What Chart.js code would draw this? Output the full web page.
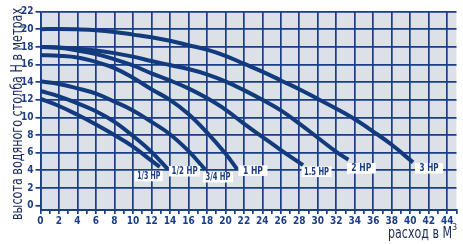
<!DOCTYPE html>
<html>
<head>
<meta charset="utf-8">
<script src="https://cdn.jsdelivr.net/npm/chart.js@4/dist/chart.umd.min.js"></script>
<style>
  html, body { margin: 0; padding: 0; background: #fff; }
  #wrap { width: 463px; height: 244px; position: relative; }
</style>
</head>
<body>
<div id="wrap"><canvas id="pumpChart" width="463" height="244"></canvas></div>
<script>
// pump curves: flow (m3/h) vs head (m)
var hpLabels = ['1/3 HP', '1/2 HP', '3/4 HP', '1 HP', '1.5 HP', '2 HP', '3 HP'];

var flow13 = [0, 2, 4, 6, 8, 10, 12, 12.9];
var head13 = [12.1, 11.3, 10.3, 9.2, 8.0, 6.7, 5.1, 4.4];

var flow12 = [0, 2, 4, 6, 8, 10, 12, 13.8];
var head12 = [13.0, 12.4, 11.6, 10.7, 9.5, 7.9, 6.1, 4.1];

var flow34 = [0, 2, 4, 6, 8, 10, 12, 14, 16, 17.8];
var head34 = [14.1, 13.8, 13.3, 12.7, 11.8, 10.8, 9.5, 8.1, 6.2, 4.1];

var flow1 = [0, 2, 4, 6, 8, 10, 12, 14, 16, 18, 20, 21.3];
var head1 = [17.1, 17.0, 16.8, 16.3, 15.6, 14.5, 13.2, 12.0, 10.4, 8.3, 5.9, 4.1];

var flow15 = [0, 2, 4, 6, 8, 10, 12, 14, 16, 18, 20, 22, 24, 26, 28.4];
var head15 = [18.0, 17.9, 17.6, 17.2, 16.6, 15.9, 15.0, 14.2, 13.3, 12.2, 10.9, 9.3, 7.8, 6.3, 4.6];

var flow2 = [0, 2, 4, 6, 8, 10, 12, 14, 16, 18, 20, 22, 24, 26, 28, 30, 32, 33.3];
var head2 = [18.0, 17.95, 17.8, 17.6, 17.3, 16.9, 16.4, 15.95, 15.5, 14.9, 14.1, 13.1, 12.0, 10.8, 9.3, 7.7, 6.1, 5.2];

var flow3 = [0, 2, 4, 6, 8, 10, 12, 14, 16, 18, 20, 22, 24, 26, 28, 30, 32, 34, 36, 38, 40.3];
var head3 = [20.0, 20.05, 20.0, 19.9, 19.7, 19.4, 19.1, 18.7, 18.2, 17.7, 17.0, 16.1, 15.2, 14.2, 13.2, 12.1, 11.0, 9.8, 8.4, 6.9, 4.9];

var flows = [flow13, flow12, flow34, flow1, flow15, flow2, flow3];
var heads = [head13, head12, head34, head1, head15, head2, head3];

var xTickStep = 2, yTickStep = 2;
var xMax = 45, yMin = -0.5, yMax = 22;

var navy = '#1a3d86';
var curveColor = '#123a7e';
var fontFam = '"Liberation Sans Narrow", "DejaVu Sans Condensed", "Arial Narrow", sans-serif';

// label box offsets from the curve end (px): dx, dy, width
var labelBox = [
    [-25, 4, 28],
    [1, -3.5, 31],
    [-2, 2.5, 30],
    [1, -4, 29],
    [-1.5, 1.5, 30],
    [-1.5, 3.3, 29],
    [2, 0.6, 28]
];

var datasets = hpLabels.map(function(name, i){
    return {
        label: name,
        data: flows[i].map(function(x, j){ return {x: x, y: heads[i][j]}; }),
        showLine: true,
        borderColor: curveColor,
        borderWidth: 4,
        pointRadius: 0,
        tension: 0.4,
        borderCapStyle: 'butt',
        fill: false
    };
});

// draw text squeezed horizontally to a given width
function squeezeText(c, txt, x, y, w){
    var m = c.measureText(txt).width;
    var k = Math.min(1, w / m);
    c.save();
    c.translate(x, y);
    c.scale(k, 1);
    c.fillText(txt, 0, 0);
    c.restore();
}

var chartBg = {
    id: 'chartBg',
    beforeDraw: function(chart){
        var c = chart.ctx, a = chart.chartArea;
        c.save();
        c.fillStyle = '#ffffff';
        c.fillRect(0, 0, chart.width, chart.height);
        c.fillStyle = '#dce0e7';
        c.fillRect(a.left, a.top, a.right - a.left, a.bottom - a.top);
        c.restore();
    }
};

var hpTags = {
    id: 'hpTags',
    afterDatasetsDraw: function(chart){
        var c = chart.ctx;
        c.save();
        c.font = 'bold 10px ' + fontFam;
        c.textAlign = 'center';
        c.textBaseline = 'middle';
        hpLabels.forEach(function(name, i){
            var pts = chart.getDatasetMeta(i).data;
            var end = pts[pts.length - 1];
            var b = labelBox[i];
            var bx = end.x + b[0], by = end.y + b[1];
            c.fillStyle = '#ffffff';
            c.fillRect(bx, by, b[2], 10.5);
            c.fillStyle = navy;
            var tw = name.length > 4 ? b[2] - 5 : b[2] - 9;
            squeezeText(c, name, bx + b[2] / 2, by + 5.6, tw);
        });
        c.restore();
    }
};

var axisTitles = {
    id: 'axisTitles',
    afterDraw: function(chart){
        var c = chart.ctx;
        var yTitle = 'высота водяного столба H в метрах';
        c.save();
        c.fillStyle = '#1b2b5a';
        c.font = '16px ' + fontFam;
        c.translate(22, 114);
        c.rotate(-Math.PI / 2);
        c.textAlign = 'center';
        c.textBaseline = 'alphabetic';
        squeezeText(c, yTitle, 0, 0, 212);
        c.restore();

        c.save();
        c.fillStyle = '#1b2b5a';
        c.font = '16px ' + fontFam;
        c.textAlign = 'right';
        c.textBaseline = 'alphabetic';
        squeezeText(c, 'расход в М', 452, 238, 64);
        c.font = '9px ' + fontFam;
        c.textAlign = 'left';
        c.fillText('3', 452, 230);
        c.restore();
    }
};

var ctx = document.getElementById('pumpChart').getContext('2d');
var myChart = new Chart(ctx, {
    type: 'scatter',
    data: { datasets: datasets },
    plugins: [chartBg, hpTags, axisTitles],
    options: {
        responsive: false,
        animation: false,
        events: [],
        layout: { padding: { top: 11.7, right: 6.5, left: 0, bottom: 0 } },
        plugins: {
            legend: { display: false },
            tooltip: { enabled: false }
        },
        scales: {
            x: {
                type: 'linear',
                min: 0,
                max: xMax,
                afterFit: function(s){ s.height = 34; },
                border: { display: true, color: navy, width: 2 },
                grid: {
                    color: function(c){ return (c.tick && c.tick.value % xTickStep === 0) ? navy : 'rgba(0,0,0,0)'; },
                    tickColor: navy,
                    lineWidth: 1.7,
                    tickLength: 4,
                    drawOnChartArea: true
                },
                ticks: {
                    stepSize: 1,
                    autoSkip: false,
                    maxRotation: 0,
                    padding: 1,
                    color: navy,
                    font: { family: fontFam, size: 10, weight: 'bold' },
                    callback: function(v){ return (v % xTickStep === 0 && v < xMax) ? v : ''; }
                }
            },
            y: {
                type: 'linear',
                min: yMin,
                max: yMax,
                afterFit: function(s){ s.width = 40.5; },
                afterBuildTicks: function(s){
                    var t = [];
                    for (var v = 0; v <= yMax; v += yTickStep) t.push({value: v});
                    s.ticks = t;
                },
                border: { display: true, color: navy, width: 1.7 },
                grid: {
                    color: function(c){ return (c.tick && c.tick.value === 0) ? 'rgba(0,0,0,0)' : navy; },
                    tickColor: navy,
                    lineWidth: 1.7,
                    tickLength: 5
                },
                ticks: {
                    padding: 2,
                    color: navy,
                    font: { family: fontFam, size: 10, weight: 'bold' }
                }
            }
        }
    }
});
</script>
</body>
</html>
